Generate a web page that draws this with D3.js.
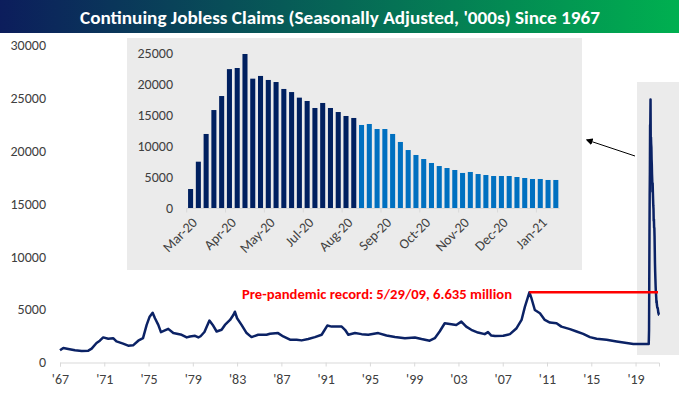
<!DOCTYPE html>
<html>
<head>
<meta charset="utf-8">
<script src="https://cdn.jsdelivr.net/npm/d3@7"></script>
<style>
  body { margin: 0; background: #fff; }
  text { font-family: Carlito, Calibri, Lato, sans-serif; }
</style>
</head>
<body>
<div id="chart"></div>
<script>
const chartTitle = "Continuing Jobless Claims (Seasonally Adjusted, '000s) Since 1967";

// long history (decimal year, '000s)
const histYears = [
    1967.0, 1967.3, 1967.75, 1968.35, 1968.96, 1969.56, 1969.86, 1970.3, 1970.6, 1970.9,
    1971.36, 1971.8, 1972.1, 1972.7, 1973.16, 1973.6, 1974.07, 1974.5, 1974.83, 1975.1,
    1975.37, 1975.58, 1975.88, 1976.12, 1976.78, 1977.24, 1977.99, 1978.45, 1978.74, 1979.2,
    1979.5, 1979.7, 1980.05, 1980.5, 1980.8, 1981.15, 1981.6, 1981.9, 1982.36, 1982.66,
    1982.8, 1983.0, 1983.4, 1983.86, 1984.3, 1984.9, 1985.66, 1985.97, 1986.7, 1987.17,
    1987.78, 1988.38, 1988.83, 1989.43, 1990.03, 1990.64, 1991.15, 1991.54, 1992.45, 1992.75,
    1993.05, 1993.65, 1994.25, 1994.85, 1995.75, 1996.5, 1997.26, 1998.16, 1999.06, 1999.66,
    2000.4, 2000.86, 2001.3, 2001.76, 2002.36, 2002.8, 2003.26, 2003.7, 2004.16, 2004.76,
    2005.37, 2005.67, 2005.97, 2006.3, 2007.05, 2007.65, 2008.25, 2008.7, 2009.0, 2009.41,
    2009.6, 2009.9, 2010.36, 2010.8, 2011.26, 2011.86, 2012.3, 2013.07, 2013.67, 2014.27,
    2014.88, 2015.48, 2016.38, 2017.29, 2018.2, 2018.8, 2019.55, 2020.19
];
const histValues = [
    1150, 1370, 1280, 1150, 1090, 1120, 1310, 1840, 2060, 2370,
    2240, 2300, 1990, 1780, 1590, 1620, 2060, 2300, 3550, 4330,
    4700, 4180, 3550, 2870, 3180, 2780, 2620, 2370, 2460, 2520,
    2370, 2480, 2880, 3960, 3550, 2930, 3090, 3550, 4020, 4490,
    4800, 4180, 3550, 2780, 2400, 2620, 2620, 2710, 2780, 2460,
    2150, 2150, 2090, 2220, 2400, 2620, 3490, 3390, 3390, 3090,
    2620, 2780, 2680, 2620, 2780, 2550, 2400, 2300, 2370, 2220,
    2060, 2300, 2930, 3710, 3620, 3550, 3860, 3390, 3090, 2830,
    2680, 2870, 2550, 2500, 2520, 2680, 3240, 4020, 5260, 6635,
    6050, 4960, 4650, 4020, 3770, 3710, 3390, 3150, 2930, 2710,
    2400, 2240, 2150, 1990, 1840, 1750, 1750, 1750
];

// weekly pandemic claims (inset), first week 3/21/20
const insetStart = "2020-03-21";
const insetValues = [
    3060, 7470, 11940, 15800, 18060, 22400, 22580, 24840, 20860, 21300,
    20650, 20320, 19200, 18700, 17800, 17260, 16130, 16940, 16130, 15480,
    14840, 14520, 13390, 13550, 12740, 12740, 11940, 10650, 9350, 8550,
    7900, 7260, 6770, 6450, 6130, 5650, 5810, 5480, 5320, 5160,
    5160, 5160, 5000, 4840, 4680, 4680, 4520, 4520
];
const insetDarkCount = 22;
const insetTickLabels = ["Mar-20", "Apr-20", "May-20", "Jul-20", "Aug-20", "Sep-20", "Oct-20", "Nov-20", "Dec-20", "Jan-21"];
const insetYTicks = [0, 5000, 10000, 15000, 20000, 25000];

const mainYTicks = [0, 5000, 10000, 15000, 20000, 25000, 30000];
const mainXTicks = [1967, 1971, 1975, 1979, 1983, 1987, 1991, 1995, 1999, 2003, 2007, 2011, 2015, 2019];

const recordYear = 2009.41;
const recordValue = 6635;
const recordNote = "Pre-pandemic record: 5/29/09, 6.635 million";

const navy = "#0b2265";
const lightBlue = "#0070c0";
const axisGrey = "#d9d9d9";
const labelGrey = "#404040";

function toDecimalYear(date) {
    const y = date.getFullYear();
    const a = new Date(y, 0, 1), b = new Date(y + 1, 0, 1);
    return y + (date - a) / (b - a);
}

function makeChart(selector) {
    const width = 679;
    const height = 396;

    const svg = (
        d3.select(selector)
        .append("svg")
        .attr("width", width)
        .attr("height", height)
    );

    // title banner
    const grad = svg.append("defs").append("linearGradient").attr("id", "titleGrad");
    grad.append("stop").attr("offset", "0%").attr("stop-color", "#0c1d5c");
    grad.append("stop").attr("offset", "100%").attr("stop-color", "#00b050");
    svg.append("rect").attr("x", 0).attr("y", 0).attr("width", width).attr("height", 33).attr("fill", "url(#titleGrad)");
    (
        svg.append("text")
        .attr("x", 340)
        .attr("y", 17)
        .attr("dy", "0.35em")
        .attr("text-anchor", "middle")
        .attr("fill", "#fff")
        .attr("font-weight", "bold")
        .attr("font-size", 19)
        .attr("textLength", 520)
        .attr("lengthAdjust", "spacingAndGlyphs")
        .text(chartTitle)
    );

    // main scales
    const weekDates = insetValues.map((v, i) => d3.timeWeek.offset(d3.timeParse("%Y-%m-%d")(insetStart), i));
    const weekYears = weekDates.map(toDecimalYear);
    const xScale = d3.scaleLinear().domain([1967, weekYears[weekYears.length - 1]]).range([60, 659]);
    const yScale = d3.scaleLinear().domain([0, 30000]).range([362.5, 45]);

    // grey highlight for the pandemic
    (
        svg.append("rect")
        .attr("x", 637).attr("y", 82)
        .attr("width", 42).attr("height", 273)
        .attr("fill", "#ebebeb")
    );

    // y labels
    (
        svg.append("g")
        .selectAll("text")
        .data(mainYTicks)
        .join("text")
        .attr("x", 46)
        .attr("y", (d) => yScale(d))
        .attr("dy", "0.35em")
        .attr("text-anchor", "end")
        .attr("font-size", 14)
        .attr("fill", labelGrey)
        .text((d) => d)
    );

    // x axis
    const xAxis = (
        d3.axisBottom(xScale)
        .tickValues(mainXTicks)
        .tickSize(4)
        .tickPadding(8)
        .tickFormat((d) => "'" + String(d).slice(2))
    );
    const gx = (
        svg.append("g")
        .attr("transform", `translate(0, ${yScale(0)})`)
        .call(xAxis)
    );
    gx.select(".domain").attr("stroke", axisGrey);
    gx.selectAll(".tick line").attr("stroke", axisGrey);
    gx.selectAll(".tick text").attr("font-size", 14).attr("fill", labelGrey).attr("font-family", null);

    // main line
    const lineYears = histYears.concat(weekYears);
    const lineValues = histValues.concat(insetValues);
    const line = d3.line().x((d, i) => xScale(lineYears[i])).y((d) => yScale(d));
    (
        svg.append("path")
        .datum(lineValues)
        .attr("d", line)
        .attr("fill", "none")
        .attr("stroke", navy)
        .attr("stroke-width", 2.5)
        .attr("stroke-linejoin", "round")
    );

    // record line + note
    (
        svg.append("line")
        .attr("x1", xScale(recordYear)).attr("x2", 658)
        .attr("y1", yScale(recordValue)).attr("y2", yScale(recordValue))
        .attr("stroke", "#ff0000")
        .attr("stroke-width", 2.5)
    );
    (
        svg.append("text")
        .attr("x", 512)
        .attr("y", yScale(recordValue) + 2)
        .attr("dy", "0.35em")
        .attr("text-anchor", "end")
        .attr("fill", "#ff0000")
        .attr("font-weight", "bold")
        .attr("font-size", 13)
        .attr("textLength", 270)
        .attr("lengthAdjust", "spacingAndGlyphs")
        .text(recordNote)
    );

    // inset
    const inset = svg.append("g");
    (
        inset.append("rect")
        .attr("x", 127).attr("y", 38)
        .attr("width", 455).attr("height", 232)
        .attr("fill", "#ebebeb")
    );
    const bScale = (
        d3.scaleBand()
        .domain(d3.range(insetValues.length))
        .range([186.7, 559.7])
        .paddingInner(0.35)
        .paddingOuter(0.175)
    );
    const iyScale = d3.scaleLinear().domain([0, 25000]).range([208, 53]);

    (
        inset.append("g")
        .selectAll("rect")
        .data(insetValues)
        .join("rect")
        .attr("x", (d, i) => bScale(i))
        .attr("y", (d) => iyScale(d))
        .attr("width", bScale.bandwidth())
        .attr("height", (d) => iyScale(0) - iyScale(d))
        .attr("fill", (d, i) => i < insetDarkCount ? "#002060" : lightBlue)
    );

    (
        inset.append("g")
        .selectAll("text")
        .data(insetYTicks)
        .join("text")
        .attr("x", 173)
        .attr("y", (d) => iyScale(d))
        .attr("dy", "0.35em")
        .attr("text-anchor", "end")
        .attr("font-size", 14)
        .attr("fill", labelGrey)
        .text((d) => d)
    );

    (
        inset.append("line")
        .attr("x1", 186.7).attr("x2", 559.7)
        .attr("y1", 208.5).attr("y2", 208.5)
        .attr("stroke", axisGrey)
    );
    const step = bScale.step();
    (
        inset.append("g")
        .selectAll("line")
        .data(insetTickLabels)
        .join("line")
        .attr("x1", (d, i) => 186.7 + i * 5 * step)
        .attr("x2", (d, i) => 186.7 + i * 5 * step)
        .attr("y1", 208.5).attr("y2", 212.5)
        .attr("stroke", axisGrey)
    );
    (
        inset.append("g")
        .selectAll("text")
        .data(insetTickLabels)
        .join("text")
        .attr("transform", (d, i) => `translate(${bScale(i * 5) + bScale.bandwidth() / 2 + 4}, 220) rotate(-45)`)
        .attr("dy", "0.35em")
        .attr("text-anchor", "end")
        .attr("font-size", 14)
        .attr("fill", labelGrey)
        .text((d) => d)
    );

    // arrow from highlight to inset
    const defs = svg.select("defs");
    (
        defs.append("marker")
        .attr("id", "arrowHead")
        .attr("viewBox", "0 0 10 10")
        .attr("refX", 8).attr("refY", 5)
        .attr("markerWidth", 7).attr("markerHeight", 7)
        .attr("orient", "auto")
        .append("path")
        .attr("d", "M0,0 L10,5 L0,10 z")
        .attr("fill", "#000")
    );
    (
        svg.append("line")
        .attr("x1", 635).attr("y1", 156)
        .attr("x2", 587).attr("y2", 140)
        .attr("stroke", "#000")
        .attr("stroke-width", 1)
        .attr("marker-end", "url(#arrowHead)")
    );
}

makeChart("#chart");
</script>
</body>
</html>
